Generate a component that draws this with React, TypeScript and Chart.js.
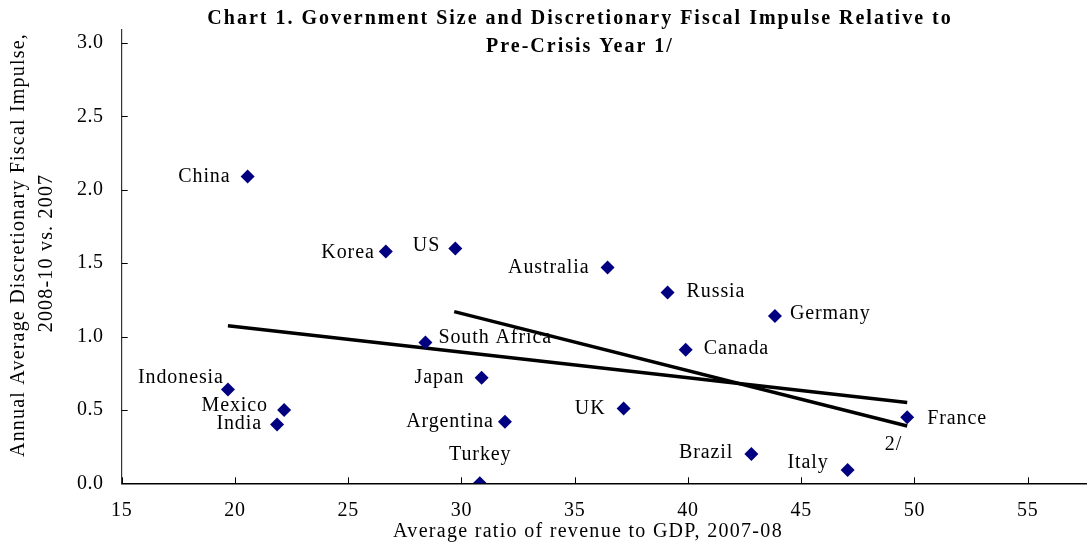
import React, { useEffect, useRef } from 'react';
import { Chart, registerables } from 'chart.js';

Chart.register(...registerables);

// ---- data ----
const countries = ['China', 'Korea', 'US', 'Australia', 'Russia', 'Germany', 'South Africa', 'Canada', 'Indonesia', 'Japan', 'Mexico', 'India', 'Argentina', 'Turkey', 'UK', 'France', 'Brazil', 'Italy'];
const revenue = [20.56, 26.66, 29.73, 36.45, 39.1, 43.84, 28.41, 39.9, 19.69, 30.89, 22.17, 21.86, 31.92, 30.81, 37.16, 49.68, 42.8, 47.05];
const impulse = [2.09, 1.58, 1.6, 1.47, 1.3, 1.14, 0.96, 0.91, 0.64, 0.72, 0.5, 0.4, 0.42, 0.0, 0.51, 0.45, 0.2, 0.09];

const fitAllX = [19.69, 49.68];
const fitAllY = [1.073, 0.551];
const fitExX = [29.68, 49.68];
const fitExY = [1.17, 0.39];

const xTicks = [15, 20, 25, 30, 35, 40, 45, 50, 55];
const yTicks = [0, 0.5, 1, 1.5, 2, 2.5, 3];

const titleLines = ['Chart 1. Government Size and Discretionary Fiscal Impulse Relative to', 'Pre-Crisis Year 1/'];
const xTitle = 'Average ratio of revenue to GDP, 2007-08';
const yTitleLines = ['Annual Average Discretionary Fiscal Impulse,', '2008-10 vs. 2007'];
const footnote = '2/';

// label placement relative to marker: [align, dx, dy]
const labelPlacement: Record<string, [CanvasTextAlign, number, number]> = {
  China: ['right', -18, 0],
  Korea: ['right', -12, 1],
  US: ['right', -16, -3],
  Australia: ['right', -19, 0],
  Russia: ['left', 19, -1],
  Germany: ['left', 15, -2],
  'South Africa': ['left', 13, -5],
  Canada: ['left', 18, -1],
  Indonesia: ['right', -5, -12],
  Japan: ['right', -18, 0],
  Mexico: ['right', -17, -4],
  India: ['right', -16, -1],
  Argentina: ['right', -12, 0],
  Turkey: ['center', 0, -29],
  UK: ['right', -19, 0],
  France: ['left', 20, 1],
  Brazil: ['right', -19, -1],
  Italy: ['right', -20, -7],
};

const FONT = '"Liberation Serif", "Times New Roman", serif';
const W = 1087;
const H = 548;
const AREA_LEFT = 121.7;
const AREA_BOTTOM = 483.3;
const AREA_TOP = 21.7;
const LS = 0.9;

const letterSpacingPlugin = {
  id: 'letterSpacing',
  beforeDraw(chart: any) {
    chart.ctx.letterSpacing = '0.6px';
  },
  afterDraw(chart: any) {
    chart.ctx.letterSpacing = '0px';
  },
};

const inwardTicks = {
  id: 'inwardTicks',
  afterDraw(chart: any) {
    const ctx = chart.ctx;
    const xs = chart.scales.x;
    const ys = chart.scales.y;
    ctx.save();
    ctx.strokeStyle = '#000';
    ctx.lineWidth = 1;
    xs.ticks.forEach((t: any) => {
      const px = Math.round(xs.getPixelForValue(t.value)) + 0.5;
      ctx.beginPath();
      ctx.moveTo(px, xs.top);
      ctx.lineTo(px, xs.top - 6);
      ctx.stroke();
    });
    ys.ticks.forEach((t: any) => {
      const py = Math.round(ys.getPixelForValue(t.value)) + 0.5;
      ctx.beginPath();
      ctx.moveTo(ys.right, py);
      ctx.lineTo(ys.right + 6, py);
      ctx.stroke();
    });
    ctx.restore();
  },
};

const textPlugin = {
  id: 'texts',
  afterDraw(chart: any) {
    const ctx = chart.ctx;
    const meta = chart.getDatasetMeta(0);
    ctx.save();
    ctx.fillStyle = '#000';
    ctx.letterSpacing = `${LS}px`;
    ctx.font = `20px ${FONT}`;
    ctx.textBaseline = 'middle';
    meta.data.forEach((pt: any, i: number) => {
      const name = countries[i];
      const [align, dx, dy] = labelPlacement[name] || ['left', 12, 0];
      ctx.textAlign = align;
      const extra = align === 'right' ? LS : align === 'center' ? LS / 2 : 0;
      ctx.fillText(name, pt.x + dx + extra, pt.y + dy);
    });
    // footnote at end of second fit line
    const m2 = chart.getDatasetMeta(2);
    const end = m2.data[m2.data.length - 1];
    if (end) {
      ctx.textAlign = 'right';
      ctx.fillText(footnote, end.x - 5, end.y + 19);
    }

    // chart title
    ctx.font = `bold 20px ${FONT}`;
    ctx.letterSpacing = '2px';
    ctx.textAlign = 'center';
    ctx.textBaseline = 'alphabetic';
    ctx.fillText(titleLines[0], 580, 24);
    ctx.fillText(titleLines[1], 580, 52);

    // x axis title
    ctx.font = `20px ${FONT}`;
    ctx.letterSpacing = '1.3px';
    ctx.fillText(xTitle, 588, 537);

    // y axis title
    ctx.font = `20px ${FONT}`;
    ctx.letterSpacing = '1.2px';
    ctx.textBaseline = 'middle';
    ctx.save();
    ctx.translate(19, 245);
    ctx.rotate(-Math.PI / 2);
    ctx.fillText(yTitleLines[0], 0, 0);
    ctx.restore();
    ctx.save();
    ctx.translate(47, 253);
    ctx.rotate(-Math.PI / 2);
    ctx.fillText(yTitleLines[1], 0, 0);
    ctx.restore();
    ctx.restore();
  },
};

export default function App() {
  const canvasRef = useRef<HTMLCanvasElement | null>(null);

  useEffect(() => {
    const canvas = canvasRef.current;
    if (!canvas) return;
    const scatterData = revenue.map((x, i) => ({ x, y: impulse[i] }));
    const lineAll = fitAllX.map((x, i) => ({ x, y: fitAllY[i] }));
    const lineEx = fitExX.map((x, i) => ({ x, y: fitExY[i] }));

    const chart = new Chart(canvas, {
      type: 'scatter',
      data: {
        datasets: [
          {
            label: 'Countries',
            data: scatterData,
            pointStyle: 'rectRot',
            pointRadius: 7,
            pointHoverRadius: 7,
            backgroundColor: '#000080',
            borderColor: '#000080',
            borderWidth: 0,
            order: 1,
          },
          {
            label: 'Fit (all)',
            data: lineAll,
            showLine: true,
            pointRadius: 0,
            borderColor: '#000',
            borderWidth: 3.5,
            order: 2,
          },
          {
            label: 'Fit 2/',
            data: lineEx,
            showLine: true,
            pointRadius: 0,
            borderColor: '#000',
            borderWidth: 3.5,
            order: 2,
          },
        ] as any,
      },
      options: {
        animation: false,
        responsive: false,
        devicePixelRatio: 1,
        events: [],
        layout: { autoPadding: false, padding: { top: AREA_TOP, left: 0, right: 0, bottom: 0 } },
        plugins: {
          legend: { display: false },
          title: { display: false },
          tooltip: { enabled: false },
        },
        scales: {
          x: {
            type: 'linear',
            position: 'bottom',
            min: 15,
            max: 15 + (W - AREA_LEFT) / 22.65,
            afterBuildTicks: (scale: any) => {
              scale.ticks = xTicks.map((v) => ({ value: v }));
            },
            afterFit: (scale: any) => {
              scale.height = H - AREA_BOTTOM;
            },
            ticks: {
              color: '#000',
              font: { family: FONT, size: 20 },
              padding: 15,
              maxRotation: 0,
              autoSkip: false,
              callback: (v: any) => String(v),
            },
            grid: { display: true, drawOnChartArea: false, drawTicks: false },
            border: { display: true, color: '#000', width: 1.5 },
          },
          y: {
            type: 'linear',
            min: 0,
            max: (AREA_BOTTOM - AREA_TOP) / ((AREA_BOTTOM - 35) / 3),
            afterBuildTicks: (scale: any) => {
              scale.ticks = yTicks.map((v) => ({ value: v }));
            },
            afterFit: (scale: any) => {
              scale.width = AREA_LEFT;
            },
            ticks: {
              color: '#000',
              font: { family: FONT, size: 20 },
              padding: 18,
              autoSkip: false,
              callback: (v: any) => Number(v).toFixed(1),
            },
            grid: { display: true, drawOnChartArea: false, drawTicks: false },
            border: { display: true, color: '#333', width: 1.2 },
          },
        },
      } as any,
      plugins: [letterSpacingPlugin, inwardTicks, textPlugin],
    });
    return () => chart.destroy();
  }, []);

  return (
    <div style={{ position: 'fixed', left: 0, top: 0, width: W, height: H, background: '#fff' }}>
      <canvas ref={canvasRef} width={W} height={H} style={{ display: 'block', width: W, height: H }} />
    </div>
  );
}
